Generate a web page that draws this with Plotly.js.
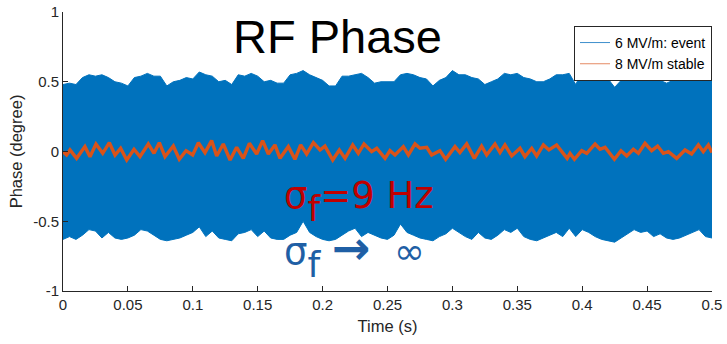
<!DOCTYPE html>
<html>
<head>
<meta charset="utf-8">
<script src="https://cdn.plot.ly/plotly-3.0.1.min.js"></script>
<style>html,body{margin:0;padding:0;background:#fff;}#chart{width:727px;height:344px;}</style>
</head>
<body>
<div id="chart"></div>
<script>
// ---- Data ----
// 6 MV/m: event — envelope of the densely oscillating signal (degree)
var envTime = [0,0.005,0.01,0.015,0.02,0.025,0.03,0.035,0.04,0.045,
  0.05,0.055,0.06,0.065,0.07,0.075,0.08,0.085,0.09,0.095,
  0.1,0.105,0.11,0.115,0.12,0.125,0.13,0.135,0.14,0.145,
  0.15,0.155,0.16,0.165,0.17,0.175,0.18,0.185,0.19,0.195,
  0.2,0.205,0.21,0.215,0.22,0.225,0.23,0.235,0.24,0.245,
  0.25,0.255,0.26,0.265,0.27,0.275,0.28,0.285,0.29,0.295,
  0.3,0.305,0.31,0.315,0.32,0.325,0.33,0.335,0.34,0.345,
  0.35,0.355,0.36,0.365,0.37,0.375,0.38,0.385,0.39,0.395,
  0.4,0.405,0.41,0.415,0.42,0.425,0.43,0.435,0.44,0.445,
  0.45,0.455,0.46,0.465,0.47,0.475,0.48,0.485,0.49,0.495,0.5];
var eventUpper = [0.48,0.49,0.48,0.53,0.55,0.54,0.55,0.53,0.50,0.49,
  0.47,0.53,0.54,0.56,0.54,0.54,0.47,0.50,0.51,0.53,
  0.52,0.57,0.55,0.54,0.50,0.51,0.48,0.55,0.54,0.56,
  0.54,0.50,0.51,0.49,0.49,0.55,0.56,0.58,0.55,0.53,
  0.51,0.47,0.47,0.54,0.54,0.55,0.56,0.53,0.49,0.50,
  0.50,0.50,0.55,0.56,0.55,0.53,0.52,0.47,0.51,0.53,
  0.58,0.55,0.55,0.53,0.52,0.48,0.50,0.52,0.56,0.55,
  0.56,0.53,0.52,0.50,0.50,0.52,0.55,0.55,0.56,0.48,
  0.57,0.56,0.55,0.53,0.52,0.46,0.51,0.52,0.55,0.56,
  0.54,0.53,0.51,0.49,0.51,0.52,0.55,0.55,0.56,0.51,0.52];
var eventLower = [-0.63,-0.61,-0.63,-0.60,-0.56,-0.57,-0.62,-0.58,-0.62,-0.63,
  -0.62,-0.60,-0.56,-0.57,-0.60,-0.63,-0.64,-0.63,-0.62,-0.60,
  -0.58,-0.54,-0.61,-0.57,-0.62,-0.63,-0.64,-0.59,-0.58,-0.56,
  -0.61,-0.57,-0.62,-0.63,-0.63,-0.60,-0.58,-0.50,-0.58,-0.61,
  -0.63,-0.64,-0.63,-0.60,-0.57,-0.55,-0.61,-0.58,-0.60,-0.62,
  -0.63,-0.60,-0.52,-0.58,-0.60,-0.62,-0.63,-0.64,-0.61,-0.59,
  -0.55,-0.58,-0.61,-0.63,-0.58,-0.62,-0.63,-0.60,-0.56,-0.58,
  -0.55,-0.61,-0.63,-0.64,-0.62,-0.60,-0.58,-0.61,-0.55,-0.61,
  -0.56,-0.58,-0.61,-0.63,-0.64,-0.65,-0.62,-0.59,-0.56,-0.58,
  -0.57,-0.61,-0.59,-0.62,-0.63,-0.62,-0.60,-0.58,-0.56,-0.61,-0.62];

// 8 MV/m stable — turning points of the phase trace (s, degree)
var stableTime = [0,0.0028,0.0054,0.0105,0.0169,0.0208,0.0254,0.0306,0.0357,0.0401,
  0.0444,0.0491,0.0547,0.0593,0.0657,0.0701,0.0742,0.0786,0.0850,0.0896,
  0.0948,0.0999,0.1043,0.1094,0.1145,0.1184,0.1235,0.1287,0.1338,0.1389,
  0.1436,0.1492,0.1538,0.1582,0.1633,0.1672,0.1736,0.1787,0.1831,0.1877,
  0.1929,0.1980,0.2018,0.2078,0.2129,0.2173,0.2232,0.2275,0.2319,0.2378,
  0.2417,0.2481,0.2519,0.2558,0.2622,0.2661,0.2712,0.2750,0.2802,0.2840,
  0.2904,0.2948,0.3020,0.3058,0.3110,0.3169,0.3225,0.3264,0.3328,0.3367,
  0.3405,0.3457,0.3521,0.3559,0.3611,0.3649,0.3701,0.3744,0.3803,0.3884,
  0.3906,0.3940,0.3996,0.4035,0.4099,0.4137,0.4176,0.4248,0.4299,0.4343,
  0.4394,0.4433,0.4484,0.4535,0.4581,0.4625,0.4664,0.4728,0.4792,0.4843,
  0.4895,0.4933,0.4972,0.5];
var stablePhase = [-0.001,-0.025,0.011,-0.049,0.035,-0.037,0.054,-0.013,0.063,-0.025,
  0.023,-0.061,0.016,-0.037,0.054,-0.013,0.063,-0.037,0.039,-0.056,
  0.006,-0.025,0.063,-0.008,0.078,-0.032,0.054,-0.061,0.030,-0.049,
  0.059,-0.018,0.078,-0.018,0.047,-0.049,0.035,-0.056,0.047,-0.018,
  0.063,0.011,0.039,-0.061,0.011,-0.049,0.047,-0.013,0.054,-0.001,
  0.023,-0.049,0.006,-0.025,0.035,-0.025,0.054,0.023,0.030,-0.025,
  0.006,-0.056,0.035,-0.008,0.054,-0.049,0.039,-0.025,0.054,-0.008,
  0.047,-0.032,0.023,-0.037,0.023,-0.032,0.047,0.011,0.047,-0.049,
  -0.013,-0.056,0.006,-0.013,0.054,0.016,0.030,-0.056,0.006,-0.032,
  0.016,-0.013,0.059,0.006,0.039,-0.013,-0.001,-0.049,0.011,-0.018,
  0.047,-0.001,0.047,-0.008];

// Axis ticks
var xTickVals = [0,0.05,0.1,0.15,0.2,0.25,0.3,0.35,0.4,0.45,0.5];
var xTickText = ['0','0.05','0.1','0.15','0.2','0.25','0.3','0.35','0.4','0.45','0.5'];
var yTickVals = [-1,-0.5,0,0.5,1];
var yTickText = ['-1','-0.5','0','0.5','1'];

var seriesNames = ['6 MV/m: event', '8 MV/m stable'];

// ---- Styling ----
var FONT = 'Liberation Sans, Arial, Helvetica, sans-serif';
var AFONT = 'DejaVu Sans, Verdana, sans-serif';
var BLUE = '#0072bd', ORANGE = '#d95319', AX = '#262626';

var traces = [
  {x: envTime, y: eventUpper, mode: 'lines', line: {color: BLUE, width: 1},
   showlegend: false, hoverinfo: 'skip'},
  {x: envTime, y: eventLower, mode: 'lines', line: {color: BLUE, width: 1},
   fill: 'tonexty', fillcolor: BLUE, showlegend: false, hoverinfo: 'skip'},
  {x: stableTime, y: stablePhase, mode: 'lines', line: {color: ORANGE, width: 3.4},
   showlegend: false, hoverinfo: 'skip'},
  // legend entries
  {x: [null], y: [null], mode: 'lines', name: seriesNames[0], line: {color: '#3d8fcc', width: 1}},
  {x: [null], y: [null], mode: 'lines', name: seriesNames[1], line: {color: '#e58a63', width: 1}}
];

var axisCommon = {
  showgrid: false, zeroline: false, showline: true, linecolor: AX, linewidth: 1,
  ticks: 'inside', ticklen: 5, tickwidth: 1, tickcolor: AX, mirror: false,
  tickfont: {family: FONT, size: 15, color: AX}, automargin: false
};

var layout = {
  width: 727, height: 344,
  margin: {l: 63, r: 15, t: 12, b: 53, pad: 0},
  paper_bgcolor: '#fff', plot_bgcolor: '#fff',
  font: {family: FONT, color: AX},
  title: {text: 'RF Phase', font: {family: FONT, size: 47, color: '#000'},
          xref: 'paper', x: 0.423, xanchor: 'center',
          yref: 'container', y: 0.894, yanchor: 'middle'},
  xaxis: Object.assign({}, axisCommon, {
    range: [0, 0.5], tickvals: xTickVals, ticktext: xTickText,
    title: {text: 'Time (s)', font: {family: FONT, size: 16.5, color: AX}, standoff: 8}
  }),
  yaxis: Object.assign({}, axisCommon, {
    range: [-1, 1], tickvals: yTickVals, ticktext: yTickText,
    title: {text: 'Phase (degree)', font: {family: FONT, size: 16.5, color: AX}, standoff: 6}
  }),
  legend: {
    x: 1, xanchor: 'right', y: 0.95, yanchor: 'top', traceorder: 'normal',
    bgcolor: '#fff', bordercolor: AX, borderwidth: 1,
    font: {family: FONT, size: 14, color: '#000'}, tracegroupgap: 0
  },
  annotations: [
    {text: 'σ<sub><span style="font-size:36px;baseline-shift:-5px">f</span></sub>=9 Hz', xref: 'x', yref: 'y', x: 0.1687, y: -0.36,
     xanchor: 'left', yanchor: 'middle', showarrow: false,
     font: {family: AFONT, size: 37, color: '#c00000'}},
    {text: 'σ<sub><span style="font-size:36px;baseline-shift:-5px">f</span></sub> <b><span style="font-size:46px">→</span></b>\u00a0 ∞', xref: 'x', yref: 'y', x: 0.1687, y: -0.73,
     xanchor: 'left', yanchor: 'middle', showarrow: false,
     font: {family: AFONT, size: 37, color: '#1f5fa5'}}
  ],
  showlegend: true
};

Plotly.newPlot('chart', traces, layout, {displayModeBar: false, staticPlot: true});
</script>
</body>
</html>
